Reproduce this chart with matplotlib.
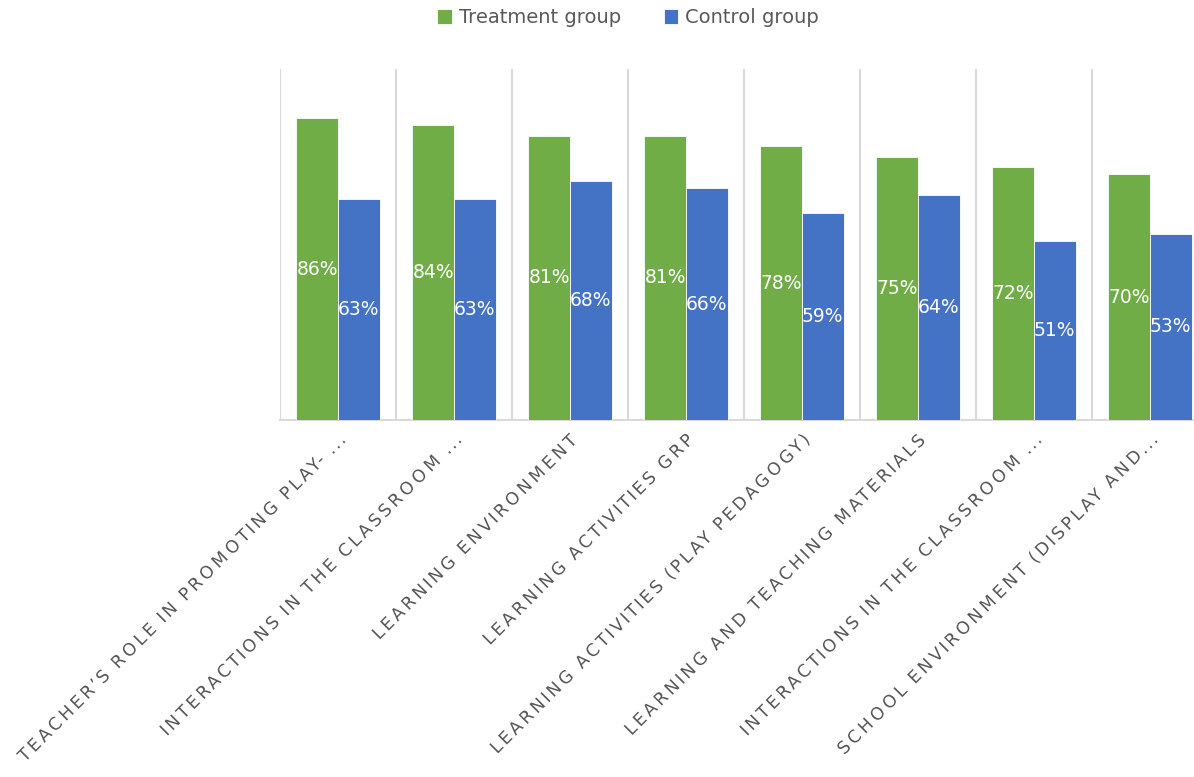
import matplotlib
matplotlib.use("Agg")
import matplotlib.pyplot as plt
from matplotlib.patheffects import AbstractPathEffect
from matplotlib.path import Path
import numpy as np

categories = [
    "TEACHER\u2019S ROLE IN PROMOTING PLAY- \u2026",
    "INTERACTIONS IN THE CLASSROOM \u2026",
    "LEARNING ENVIRONMENT",
    "LEARNING ACTIVITIES GRP",
    "LEARNING ACTIVITIES (PLAY PEDAGOGY)",
    "LEARNING AND TEACHING MATERIALS",
    "INTERACTIONS IN THE CLASSROOM \u2026",
    "SCHOOL ENVIRONMENT (DISPLAY AND\u2026",
]
treatment = [86, 84, 81, 81, 78, 75, 72, 70]
control = [63, 63, 68, 66, 59, 64, 51, 53]
series_names = ["Treatment group", "Control group"]

GREEN = "#70AD47"
BLUE = "#4472C4"
GRID = "#D9D9D9"
TEXT = "#595959"


class Tracking(AbstractPathEffect):
    """Widen letter spacing of text (keeps right end fixed)."""

    def __init__(self, factor):
        super().__init__()
        self.factor = factor

    def draw_path(self, renderer, gc, tpath, affine, rgbFace=None):
        verts = np.array(tpath.vertices, dtype=float).copy()
        codes = tpath.codes
        if codes is None or len(verts) == 0:
            renderer.draw_path(gc, tpath, affine, rgbFace)
            return
        valid = codes != Path.CLOSEPOLY
        xmax = verts[valid, 0].max()
        starts = np.where(codes == Path.MOVETO)[0]
        ends = list(starts[1:]) + [len(verts)]
        for s, e in zip(starts, ends):
            seg = verts[s:e, 0][valid[s:e]]
            if len(seg) == 0:
                continue
            cx = (seg.min() + seg.max()) / 2
            verts[s:e, 0] += (self.factor - 1) * (cx - xmax)
        renderer.draw_path(gc, Path(verts, codes), affine, rgbFace)


fig = plt.figure(figsize=(11.94, 7.77), dpi=100)
ax = fig.add_axes([280 / 1194, 1 - 420 / 777, 928 / 1194, 351 / 777])

x = np.arange(len(categories))
w = 0.358
b1 = ax.bar(x - w / 2, treatment, w, color=GREEN, edgecolor="white", linewidth=0.6,
            label=series_names[0], zorder=3)
b2 = ax.bar(x + w / 2, control, w, color=BLUE, edgecolor="white", linewidth=0.6,
            label=series_names[1], zorder=3)

for bars, vals in ((b1, treatment), (b2, control)):
    for r, v in zip(bars, vals):
        ax.text(r.get_x() + r.get_width() / 2, v / 2, f"{v}%", ha="center", va="center",
                color="white", fontsize=13.5, zorder=4)

ax.set_xlim(-0.5, len(categories) - 0.5)
ax.set_ylim(0, 100)
ax.set_yticks([])
ax.set_xticks(x)
labels = ax.set_xticklabels(categories, rotation=45, ha="right", va="top",
                            rotation_mode="anchor", fontsize=12.5, color=TEXT)
for lab in labels:
    lab.set_path_effects([Tracking(1.27)])
ax.tick_params(axis="x", length=0, pad=7)
ax.set_xticks(np.arange(-0.5, len(categories), 1.0), minor=True)
ax.tick_params(axis="x", which="minor", length=0)
ax.grid(axis="x", which="minor", color=GRID, linewidth=1.5, zorder=0)
ax.grid(axis="x", which="major", visible=False)
for s in ["top", "right", "left"]:
    ax.spines[s].set_visible(False)
ax.spines["bottom"].set_color(GRID)
ax.spines["bottom"].set_linewidth(1.5)

fig.legend(handles=[b1, b2], labels=series_names, loc="upper center",
           bbox_to_anchor=(628 / 1194, 1.012), ncol=2, frameon=False, fontsize=14,
           handlelength=0.75, handleheight=0.75, handletextpad=0.35, columnspacing=2.2,
           labelcolor=TEXT)

fig.savefig("out.png", dpi=100)
